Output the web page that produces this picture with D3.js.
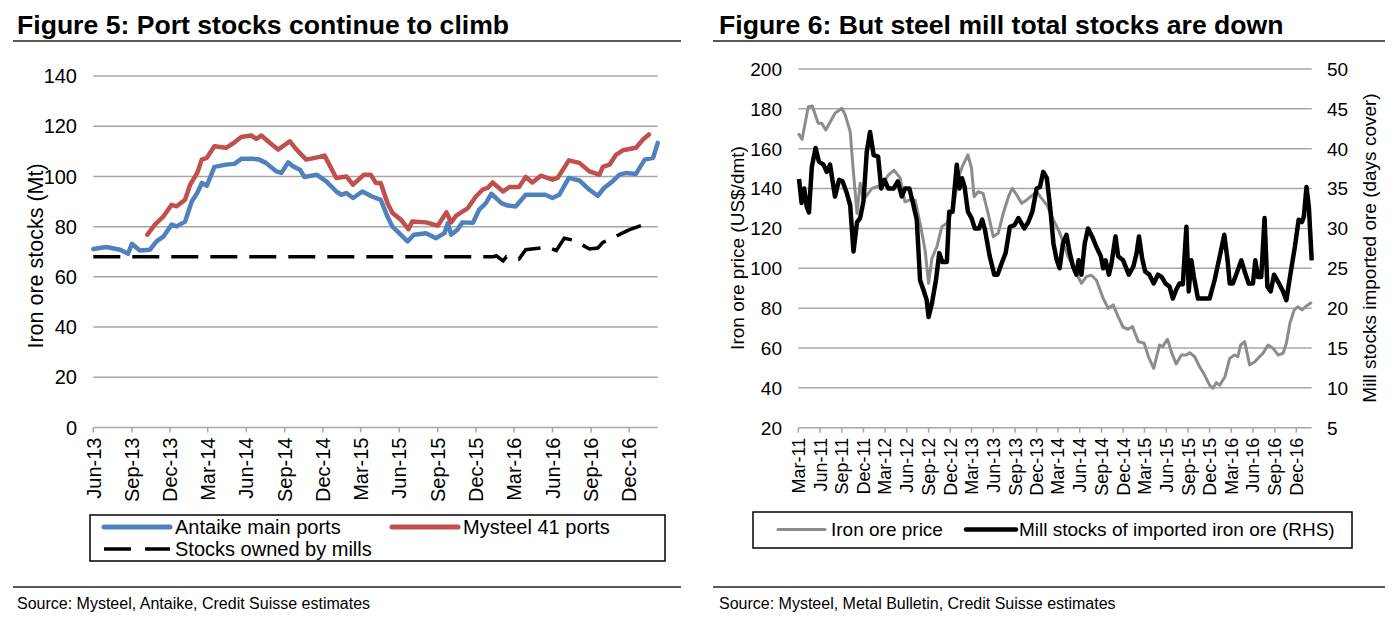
<!DOCTYPE html>
<html><head><meta charset="utf-8">
<script src="https://cdn.jsdelivr.net/npm/d3@7"></script>
<style>
body{margin:0;background:#fff;}
svg{display:block;font-family:"Liberation Sans",Arial,sans-serif;}
</style>
</head><body>
<svg id="c" width="1400" height="629"></svg>
<script>
// ---------- DATA: Figure 5 ----------
const fig5Title = "Figure 5: Port stocks continue to climb";
const fig5Source = "Source: Mysteel, Antaike, Credit Suisse estimates";
const fig5YLabel = "Iron ore stocks (Mt)";
const fig5XTicks = ["Jun-13","Sep-13","Dec-13","Mar-14","Jun-14","Sep-14","Dec-14","Mar-15","Jun-15","Sep-15","Dec-15","Mar-16","Jun-16","Sep-16","Dec-16"];
const fig5YTicks = [0,20,40,60,80,100,120,140];
const fig5Domain = ["2013-06-01","2017-02-07"];
const fig5Legend = ["Antaike main ports","Mysteel 41 ports","Stocks owned by mills"];

const antaike = [["2013-06-01",71.1],["2013-07-02",71.9],["2013-08-04",70.8],["2013-08-23",69.2],["2013-09-01",73.2],["2013-09-20",70.5],["2013-10-14",70.8],["2013-10-30",74.1],["2013-11-15",76],["2013-12-05",80.8],["2013-12-17",80.1],["2014-01-06",82],["2014-01-22",90],["2014-02-04",93.4],["2014-02-15",97.4],["2014-02-27",96.3],["2014-03-17",103.8],["2014-04-14",104.7],["2014-05-04",105],["2014-05-20",107],["2014-06-17",107],["2014-07-02",106.7],["2014-07-18",105.4],["2014-08-12",102],["2014-08-24",101.4],["2014-09-09",105.6],["2014-09-21",104],["2014-10-07",102.7],["2014-10-18",99.8],["2014-11-16",100.7],["2014-12-09",98],["2015-01-02",94],["2015-01-14",92.7],["2015-01-26",93.4],["2015-02-11",91.4],["2015-03-05",94],["2015-03-28",92],["2015-04-18",90.7],["2015-05-04",84],["2015-05-16",80],["2015-06-01",77.4],["2015-06-21",74.1],["2015-07-06",76.8],["2015-08-04",77.4],["2015-08-28",75.4],["2015-09-17",77.4],["2015-09-25",81.4],["2015-10-03",76.8],["2015-10-18",78.8],["2015-10-30",81.7],["2015-11-24",81.5],["2015-12-09",86.8],["2015-12-25",89.4],["2016-01-07",93.1],["2016-01-31",89.4],["2016-02-15",88.4],["2016-03-05",88],["2016-03-29",92.7],["2016-04-30",92.7],["2016-05-15",92.7],["2016-06-01",91.4],["2016-06-17",92.7],["2016-07-10",99.4],["2016-08-04",98.4],["2016-08-28",94.7],["2016-09-17",92.3],["2016-10-02",95.4],["2016-10-22",98],["2016-11-08",100.7],["2016-11-24",101.4],["2016-12-17",101],["2017-01-07",106.7],["2017-01-27",107.4],["2017-02-07",113.4]];

const mysteel = [["2013-10-08",76.8],["2013-10-26",80.8],["2013-11-15",84],["2013-12-05",88.7],["2013-12-17",88.1],["2014-01-06",90.7],["2014-01-18",96.7],["2014-02-04",101.4],["2014-02-15",106.7],["2014-02-27",107.4],["2014-03-17",112],["2014-04-14",111.4],["2014-05-04",113.6],["2014-05-20",115.7],["2014-06-13",116.3],["2014-06-25",115],["2014-07-07",116.3],["2014-07-27",113.4],["2014-08-16",110.7],["2014-09-13",114],["2014-09-29",110.7],["2014-10-22",106.7],["2014-11-12",107.4],["2014-12-05",108.3],["2015-01-02",99.4],["2015-01-26",100],["2015-02-11",96.7],["2015-03-09",100.7],["2015-03-25",100.7],["2015-04-06",97.4],["2015-04-18",97.4],["2015-05-04",89.4],["2015-05-16",85.4],["2015-06-05",82.8],["2015-06-23",79],["2015-07-02",82],["2015-08-04",81.7],["2015-09-01",80.4],["2015-09-22",85.7],["2015-10-03",81.7],["2015-10-15",84.4],["2015-11-12",87.4],["2015-12-01",92],["2015-12-17",94.7],["2015-12-29",95.4],["2016-01-10",97.6],["2016-02-04",94],["2016-02-19",95.8],["2016-03-13",95.8],["2016-03-29",99.8],["2016-04-14",97.6],["2016-05-04",100.3],["2016-06-01",98.7],["2016-06-13",99.4],["2016-07-10",106.4],["2016-08-04",105.4],["2016-08-28",102],["2016-09-21",100.7],["2016-09-29",103.8],["2016-10-15",104.7],["2016-10-31",108.7],["2016-11-16",110.4],["2016-12-17",111.4],["2017-01-03",114.7],["2017-01-17",116.7]];

const millsOwned = [["2013-06-01",68],["2016-01-12",68],["2016-01-19",68.4],["2016-02-04",66.4],["2016-02-12",68],["2016-03-13",67.1],["2016-03-29",70.8],["2016-04-18",71.2],["2016-05-20",71.9],["2016-06-10",70.5],["2016-06-29",75.4],["2016-07-23",74.5],["2016-08-28",71.1],["2016-09-17",71.5],["2016-09-29",73.7],["2016-10-22",75.4],["2016-11-12",77.2],["2016-12-02",78.8],["2016-12-29",80.4]];

// ---------- DATA: Figure 6 ----------
const fig6Title = "Figure 6: But steel mill total stocks are down";
const fig6Source = "Source: Mysteel, Metal Bulletin, Credit Suisse estimates";
const fig6YLabel = "Iron ore price (US$/dmt)";
const fig6Y2Label = "Mill stocks imported ore (days cover)";
const fig6XTicks = ["Mar-11","Jun-11","Sep-11","Dec-11","Mar-12","Jun-12","Sep-12","Dec-12","Mar-13","Jun-13","Sep-13","Dec-13","Mar-14","Jun-14","Sep-14","Dec-14","Mar-15","Jun-15","Sep-15","Dec-15","Mar-16","Jun-16","Sep-16","Dec-16"];
const fig6YTicks = [20,40,60,80,100,120,140,160,180,200];
const fig6Y2Ticks = [5,10,15,20,25,30,35,40,45,50];
const fig6Domain = ["2011-03-01","2017-02-04"];
const fig6Legend = ["Iron ore price","Mill stocks of imported iron ore (RHS)"];

const ironOrePrice = [["2011-03-01",167.8],["2011-03-17",164.7],["2011-04-12",181.1],["2011-04-29",181.4],["2011-05-24",172.8],["2011-06-08",172.8],["2011-06-25",169.4],["2011-08-03",177.8],["2011-09-01",180.3],["2011-09-15",177],["2011-10-06",168.6],["2011-10-20",147.7],["2011-11-04",127.6],["2011-11-17",142.7],["2011-12-01",134.3],["2012-01-06",140.1],["2012-02-17",141.8],["2012-03-15",146.8],["2012-04-08",149.3],["2012-05-04",145.2],["2012-05-24",133.4],["2012-06-15",134.3],["2012-07-06",134.3],["2012-07-27",122.6],["2012-08-17",109.2],["2012-09-01",92.5],["2012-09-15",105],["2012-10-06",110.8],["2012-10-27",120.9],["2012-11-17",122.6],["2012-12-14",130],["2013-01-04",145],["2013-01-21",151],["2013-02-14",156.9],["2013-03-01",150.2],["2013-03-12",135.9],["2013-03-29",138.4],["2013-04-19",137.6],["2013-05-10",127.6],["2013-06-01",115.9],["2013-06-22",117.6],["2013-07-13",127.6],["2013-08-04",135.9],["2013-08-20",140.1],["2013-09-08",136.8],["2013-09-29",132.6],["2013-10-20",134.3],["2013-11-10",136.3],["2013-12-01",138.4],["2013-12-22",135.1],["2014-01-13",131.8],["2014-02-10",124.2],["2014-03-08",118],["2014-04-13",105.8],["2014-05-10",99.1],["2014-06-08",92.5],["2014-06-29",95.8],["2014-07-20",96.5],["2014-08-10",94.1],["2014-09-08",84.9],["2014-09-29",79.9],["2014-10-20",81.6],["2014-11-10",75.7],["2014-12-01",70.4],["2014-12-22",69.4],["2015-01-10",70.7],["2015-02-03",63.2],["2015-02-28",62.4],["2015-03-18",55.6],["2015-04-09",49.8],["2015-05-04",61.5],["2015-05-17",60.7],["2015-06-06",64.4],["2015-06-25",57.3],["2015-07-13",52],["2015-08-04",56.5],["2015-08-25",56.5],["2015-09-08",57.6],["2015-09-29",55.6],["2015-10-20",50.6],["2015-11-10",46.4],["2015-12-01",41.4],["2015-12-15",39.8],["2015-12-29",42.6],["2016-01-13",41.4],["2016-02-04",45.6],["2016-02-24",54.8],["2016-03-15",56.5],["2016-03-29",55.6],["2016-04-10",61.5],["2016-04-27",63.2],["2016-05-18",51.5],["2016-06-09",53.1],["2016-06-29",55.6],["2016-07-13",57.3],["2016-08-04",61.5],["2016-08-25",59.8],["2016-09-15",56.5],["2016-10-06",57.3],["2016-10-20",62.4],["2016-11-04",72.4],["2016-11-22",79.1],["2016-12-08",80.7],["2016-12-25",79.1],["2017-01-13",81.1],["2017-02-04",82.9]];

const millStocks = [["2011-03-04",36.2],["2011-03-15",33.2],["2011-03-26",35.0],["2011-04-06",32.7],["2011-04-15",32.0],["2011-04-27",37.7],["2011-05-13",40.1],["2011-05-27",38.4],["2011-06-15",38.0],["2011-06-29",37.1],["2011-07-13",38.0],["2011-08-03",34.0],["2011-08-20",36.1],["2011-09-04",35.9],["2011-09-22",34.4],["2011-10-06",32.9],["2011-10-20",27.1],["2011-11-04",30.8],["2011-11-17",31.3],["2011-12-01",33.4],["2011-12-15",39.6],["2011-12-29",42.1],["2012-01-13",39.2],["2012-02-01",39.0],["2012-02-14",35.0],["2012-02-28",36.1],["2012-03-15",35.0],["2012-04-06",35.0],["2012-04-24",35.9],["2012-05-11",34.0],["2012-05-24",35.0],["2012-06-12",35.0],["2012-06-29",32.9],["2012-07-13",31.1],["2012-07-27",23.5],["2012-08-10",22.3],["2012-08-24",21.0],["2012-09-01",18.9],["2012-09-15",20.6],["2012-10-02",23.5],["2012-10-16",26.9],["2012-10-29",25.8],["2012-11-17",25.8],["2012-11-27",32.1],["2012-12-11",32.1],["2012-12-29",38.0],["2013-01-09",35.0],["2013-01-20",36.3],["2013-01-31",35.2],["2013-02-14",32.1],["2013-03-01",31.3],["2013-03-15",30.0],["2013-04-02",30.0],["2013-04-15",31.1],["2013-04-27",29.8],["2013-05-17",26.5],["2013-06-05",24.2],["2013-06-19",24.2],["2013-07-06",25.6],["2013-07-23",26.9],["2013-08-10",30.2],["2013-08-29",30.4],["2013-09-15",31.3],["2013-10-10",30.0],["2013-10-27",30.8],["2013-11-13",32.1],["2013-12-01",35.0],["2013-12-15",35.2],["2013-12-29",37.1],["2014-01-13",36.3],["2014-01-27",32.7],["2014-02-10",28.1],["2014-02-24",26.0],["2014-03-08",25.0],["2014-03-22",28.1],["2014-04-06",29.2],["2014-04-20",26.9],["2014-05-04",25.2],["2014-05-18",24.2],["2014-05-27",26.0],["2014-06-08",24.2],["2014-06-22",28.1],["2014-07-06",30.0],["2014-07-23",29.0],["2014-08-10",27.7],["2014-08-29",26.5],["2014-09-08",25.0],["2014-09-18",26.0],["2014-10-02",24.2],["2014-10-13",25.6],["2014-10-30",29.0],["2014-11-10",26.5],["2014-12-01",26.0],["2014-12-25",24.2],["2015-01-13",25.2],["2015-01-27",26.9],["2015-02-06",29.0],["2015-02-19",26.3],["2015-03-04",24.6],["2015-03-22",24.2],["2015-04-09",23.1],["2015-04-27",24.2],["2015-05-13",23.9],["2015-05-29",23.1],["2015-06-15",22.7],["2015-06-29",21.2],["2015-07-13",22.3],["2015-07-27",23.1],["2015-08-10",23.0],["2015-08-25",30.2],["2015-09-04",22.1],["2015-09-15",26.0],["2015-09-26",23.9],["2015-10-13",21.2],["2015-11-10",21.2],["2015-12-01",21.2],["2015-12-22",23.5],["2016-01-13",26.5],["2016-02-01",29.2],["2016-02-15",26.0],["2016-02-24",23.1],["2016-03-08",23.1],["2016-03-27",24.6],["2016-04-13",26.0],["2016-04-27",24.6],["2016-05-14",23.1],["2016-06-01",23.1],["2016-06-11",26.0],["2016-06-22",23.9],["2016-07-06",23.9],["2016-07-20",31.3],["2016-08-01",22.7],["2016-08-15",22.1],["2016-08-29",24.2],["2016-09-15",23.3],["2016-10-06",22.1],["2016-10-20",21.0],["2016-11-08",24.6],["2016-11-25",27.7],["2016-12-11",31.1],["2016-12-25",30.8],["2017-01-02",31.5],["2017-01-13",35.2],["2017-01-23",32.7],["2017-02-04",26.0]];

// ---------- DRAWING ----------
const parseD = d3.timeParse("%Y-%m-%d");
const parseTick = d3.timeParse("%b-%y");
const svg = d3.select("#c");
const GRID = "#a6a6a6";

function header(x0, x1, tx, title, source){
  svg.append("text").attr("x", tx).attr("y", 34).attr("font-size", 26.6).attr("font-weight", "bold")
     .attr("fill", "#000").text(title);
  svg.append("line").attr("x1", x0).attr("x2", x1).attr("y1", 41).attr("y2", 41)
     .attr("stroke", "#222").attr("stroke-width", 1.5);
  svg.append("line").attr("x1", x0).attr("x2", x1).attr("y1", 587).attr("y2", 587)
     .attr("stroke", "#222").attr("stroke-width", 1.5);
  svg.append("text").attr("x", tx).attr("y", 609).attr("font-size", 16).attr("fill", "#000").text(source);
}

function xAxis(g, x, ticks, y0, fs){
  g.append("line").attr("x1", x.range()[0]).attr("x2", x.range()[1]).attr("y1", y0).attr("y2", y0)
   .attr("stroke", GRID).attr("stroke-width", 1.5);
  const td = ticks.map(t => parseTick(t));
  g.selectAll(null).data(td).enter().append("line")
   .attr("x1", d => x(d)).attr("x2", d => x(d)).attr("y1", y0).attr("y2", y0 + 5)
   .attr("stroke", GRID).attr("stroke-width", 1.5);
  g.selectAll(null).data(ticks).enter().append("text")
   .attr("transform", d => `translate(${x(parseTick(d))},${y0 + 10}) rotate(-90)`)
   .attr("text-anchor", "end").attr("dy", "0.36em").attr("font-size", fs).attr("fill", "#000").text(d => d);
}

// ---- Figure 5 ----
header(13, 681, 17, fig5Title, fig5Source);
{
  const g = svg.append("g");
  const x = d3.scaleTime().domain(fig5Domain.map(parseD)).range([93.3, 657.7]);
  const y = d3.scaleLinear().domain([0, 140]).range([427.5, 76]);
  g.selectAll(null).data(fig5YTicks.filter(v => v > 0)).enter().append("line")
   .attr("x1", 93.3).attr("x2", 657.7).attr("y1", d => y(d)).attr("y2", d => y(d))
   .attr("stroke", GRID).attr("stroke-width", 1.5);
  g.selectAll(null).data(fig5YTicks).enter().append("text")
   .attr("x", 77).attr("y", d => y(d)).attr("dy", "0.36em").attr("text-anchor", "end")
   .attr("font-size", 20).attr("fill", "#000").text(d => d);
  g.append("text").attr("transform", `translate(35,256) rotate(-90)`)
   .attr("text-anchor", "middle").attr("dy", "0.36em").attr("font-size", 21.5).text(fig5YLabel);
  xAxis(g, x, fig5XTicks, 427.5, 20);

  const line = d3.line().x(d => x(parseD(d[0]))).y(d => y(d[1]));
  g.append("path").attr("d", line(millsOwned)).attr("fill", "none").attr("stroke", "#000")
   .attr("stroke-width", 3.5).attr("stroke-dasharray", "27,12");
  g.append("path").attr("d", line(antaike)).attr("fill", "none").attr("stroke", "#4f81bd")
   .attr("stroke-width", 4.5).attr("stroke-linejoin", "round").attr("stroke-linecap", "round");
  g.append("path").attr("d", line(mysteel)).attr("fill", "none").attr("stroke", "#c0504d")
   .attr("stroke-width", 4.5).attr("stroke-linejoin", "round").attr("stroke-linecap", "round");

  // legend
  g.append("rect").attr("x", 90).attr("y", 515).attr("width", 575).attr("height", 46)
   .attr("fill", "#fff").attr("stroke", "#000").attr("stroke-width", 1.5);
  const items = [
    {x: 104, y: 527, c: "#4f81bd", dash: null, w: 5},
    {x: 392, y: 527, c: "#c0504d", dash: null, w: 5},
    {x: 104, y: 549, c: "#000", dash: "27,14", w: 3.5}
  ];
  items.forEach((it, i) => {
    g.append("line").attr("x1", it.x).attr("x2", it.x + 66).attr("y1", it.y).attr("y2", it.y)
     .attr("stroke", it.c).attr("stroke-width", it.w).attr("stroke-dasharray", it.dash)
     .attr("stroke-linecap", it.dash ? "butt" : "round");
    g.append("text").attr("x", it.x + 71).attr("y", it.y).attr("dy", "0.36em")
     .attr("font-size", 20).text(fig5Legend[i]);
  });
}

// ---- Figure 6 ----
header(713, 1385, 719, fig6Title, fig6Source);
{
  const g = svg.append("g");
  const x = d3.scaleTime().domain(fig6Domain.map(parseD)).range([798.3, 1311.7]);
  const y = d3.scaleLinear().domain([20, 200]).range([427.7, 69]);
  const y2 = d3.scaleLinear().domain([5, 50]).range([427.7, 69]);
  g.selectAll(null).data(fig6YTicks.filter(v => v > 20)).enter().append("line")
   .attr("x1", 798.3).attr("x2", 1311.7).attr("y1", d => y(d)).attr("y2", d => y(d))
   .attr("stroke", GRID).attr("stroke-width", 1.5);
  g.selectAll(null).data(fig6YTicks).enter().append("text")
   .attr("x", 782).attr("y", d => y(d)).attr("dy", "0.36em").attr("text-anchor", "end")
   .attr("font-size", 19).attr("fill", "#000").text(d => d);
  g.selectAll(null).data(fig6Y2Ticks).enter().append("text")
   .attr("x", 1327).attr("y", d => y2(d)).attr("dy", "0.36em").attr("text-anchor", "start")
   .attr("font-size", 19).attr("fill", "#000").text(d => d);
  g.append("text").attr("transform", `translate(737,248) rotate(-90)`)
   .attr("text-anchor", "middle").attr("dy", "0.36em").attr("font-size", 19).text(fig6YLabel);
  g.append("text").attr("transform", `translate(1369,248) rotate(-90)`)
   .attr("text-anchor", "middle").attr("dy", "0.36em").attr("font-size", 19).text(fig6Y2Label);
  xAxis(g, x, fig6XTicks, 427.7, 18);

  const line1 = d3.line().x(d => x(parseD(d[0]))).y(d => y(d[1]));
  const line2 = d3.line().x(d => x(parseD(d[0]))).y(d => y2(d[1]));
  g.append("path").attr("d", line1(ironOrePrice)).attr("fill", "none").attr("stroke", "#8c8c8c")
   .attr("stroke-width", 3).attr("stroke-linejoin", "round");
  g.append("path").attr("d", line2(millStocks)).attr("fill", "none").attr("stroke", "#000")
   .attr("stroke-width", 4.5).attr("stroke-linejoin", "round");

  g.append("rect").attr("x", 753).attr("y", 512).attr("width", 599).attr("height", 36)
   .attr("fill", "#fff").attr("stroke", "#000").attr("stroke-width", 1.5);
  const items = [
    {x: 778, x2: 825, c: "#8c8c8c", w: 3, tx: 831},
    {x: 966, x2: 1016, c: "#000", w: 4.5, tx: 1019}
  ];
  items.forEach((it, i) => {
    g.append("line").attr("x1", it.x).attr("x2", it.x2).attr("y1", 529.5).attr("y2", 529.5)
     .attr("stroke", it.c).attr("stroke-width", it.w).attr("stroke-linecap", "round");
    g.append("text").attr("x", it.tx).attr("y", 529.5).attr("dy", "0.36em")
     .attr("font-size", 19).text(fig6Legend[i]);
  });
}
</script>
</body></html>
